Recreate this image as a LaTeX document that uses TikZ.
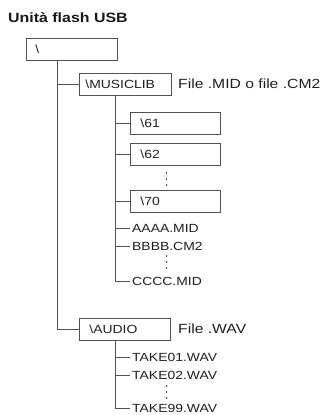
\documentclass[tikz,border=0pt]{standalone}
\usepackage{fontspec}
\setmainfont{Liberation Sans}[FakeStretch=1.18]
\begin{document}
\begin{tikzpicture}[x=1pt,y=-1pt,
  ln/.style={draw=black!68, line width=0.8pt},
  txt/.style={font=\fontsize{11.8}{14}\selectfont, text=black!88},
  dirbox/.style={ln, txt, anchor=north west, minimum height=21.5pt,
    text height=8.4pt, text depth=0pt, align=left},
  leaf/.style={txt, anchor=west, inner xsep=2pt, inner ysep=0pt,
    text height=8.4pt, text depth=0pt},
  lab/.style={font=\fontsize{13.3}{16}\selectfont, text=black!88, anchor=west,
    inner sep=0pt, text height=9.5pt, text depth=0pt},
  vdot/.style={fill=black!80}
]
\useasboundingbox (0,0) rectangle (326,415);

\node[anchor=base west, inner sep=0pt, text=black!90,
  font=\bfseries\fontsize{13.5}{16}\selectfont] (title) at (8,23) {Unità flash USB};

% directory boxes
\node[dirbox, inner xsep=9pt, text width=73pt] (root) at (26,38) {\textbackslash};
\node[dirbox, inner xsep=6pt, text width=80pt] (music) at (79,73) {\textbackslash MUSICLIB};
\node[dirbox, inner xsep=10pt, text width=70pt] (d61) at (130,112) {\textbackslash 61};
\node[dirbox, inner xsep=10pt, text width=70pt] (d62) at (130,143) {\textbackslash 62};
\node[dirbox, inner xsep=10pt, text width=70pt] (d70) at (130,190) {\textbackslash 70};
\node[dirbox, inner xsep=10pt, text width=71pt] (audio) at (79,318) {\textbackslash AUDIO};

% labels
\node[lab] (labmid) at (178,84) {File .MID o file .CM2};
\node[lab] (labwav) at (178,329) {File .WAV};

% files
\node[leaf] (fa) at (130,228) {AAAA.MID};
\node[leaf] (fb) at (130,246) {BBBB.CM2};
\node[leaf] (fc) at (130,281) {CCCC.MID};
\node[leaf] (t1) at (130,357) {TAKE01.WAV};
\node[leaf] (t2) at (130,375) {TAKE02.WAV};
\node[leaf] (t9) at (130,408) {TAKE99.WAV};

% trunks
\coordinate (rtrunk) at ([xshift=31pt]root.south west);
\coordinate (mtrunk) at ([xshift=36pt]music.south west);
\coordinate (atrunk) at ([xshift=36pt]audio.south west);

\draw[ln] (rtrunk) |- (audio.west);
\draw[ln] (music.west) -- (music.west -| rtrunk);

\draw[ln] (mtrunk) |- (fc.west);
\draw[ln] (d61.west) -- (d61.west -| mtrunk);
\draw[ln] (d62.west) -- (d62.west -| mtrunk);
\draw[ln] (d70.west) -- (d70.west -| mtrunk);
\draw[ln] (fa.west) -- (fa.west -| mtrunk);
\draw[ln] (fb.west) -- (fb.west -| mtrunk);

\draw[ln] (atrunk) |- (t9.west);
\draw[ln] (t1.west) -- (t1.west -| atrunk);
\draw[ln] (t2.west) -- (t2.west -| atrunk);

% vertical ellipses
\foreach \y in {173,179,185} \fill[vdot] (166.5,\y) circle (0.85);
\foreach \y in {256,262,268} \fill[vdot] (166.5,\y) circle (0.85);
\foreach \y in {386,392,398} \fill[vdot] (166.5,\y) circle (0.85);
\end{tikzpicture}
\end{document}
